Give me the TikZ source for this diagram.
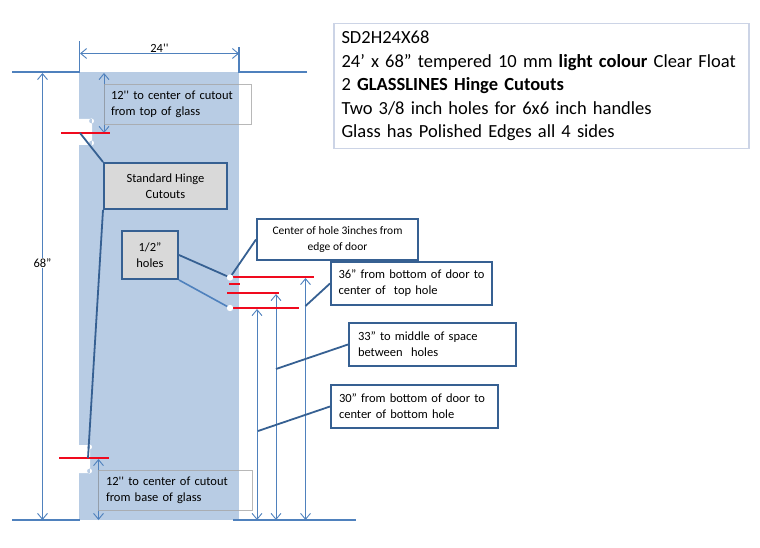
\documentclass[tikz,border=0pt]{standalone}
\usepackage{fontspec}
\setmainfont{Carlito}
\usetikzlibrary{arrows.meta}
\definecolor{glass}{RGB}{184,204,228}
\definecolor{dimblue}{RGB}{79,129,189}
\definecolor{boxblue}{RGB}{54,96,146}
\definecolor{boxgrey}{RGB}{217,217,217}
\definecolor{infoline}{RGB}{204,212,230}
\definecolor{markred}{RGB}{240,10,30}
\begin{document}
\begin{tikzpicture}[x=1pt,y=-1pt,>={Straight Barb[length=6pt,width=10pt]},
  dim/.style={<->,draw=dimblue,line width=0.9pt},
  edgeline/.style={draw=dimblue,line width=1.2pt},
  redline/.style={draw=markred,line width=1.3pt},
  lead/.style={draw=boxblue,line width=1.8pt},
  call box/.style={draw=boxblue,line width=2pt,fill=white,align=left,font=\fontsize{12.5}{16}\selectfont,inner sep=0pt},
  grey box/.style={call box,fill=boxgrey,align=center},
  note box/.style={draw=black!35,draw opacity=0.8,line width=0.6pt,align=left,font=\fontsize{12.5}{16}\selectfont,inner sep=0pt}]

  \useasboundingbox (0,0) rectangle (760,548);

  % glass and cutouts
  \fill[glass] (79,72) rectangle (239,520);
  \fill[white] (78,119) rectangle (92,145) (91.5,121) circle (2.5) (91.5,143) circle (2.5);
  \fill[white] (78,445) rectangle (90,473) (89.5,447) circle (2.5) (89.5,471) circle (2.5);

  % named ends
  \coordinate (tl) at (79.5,72);
  \coordinate (tr) at (239,72);
  \coordinate (topleft) at (12,72);
  \coordinate (topright) at (307,72);
  \coordinate (bl) at (79.5,520);
  \coordinate (botleft) at (12,520);
  \coordinate (botmid) at (233,520);
  \coordinate (botright) at (356,520);
  \coordinate (hole1) at (230,277.5);
  \coordinate (hole2) at (230,308);
  \coordinate (cut1) at (80,133);
  \coordinate (cut2) at (88,458);

  % boundary lines
  \draw[edgeline] (topleft) -- (tl) -- (79.5,41);
  \draw[edgeline] (topright) -- (tr) -- (239,47);
  \draw[edgeline] (botleft) -- (bl);
  \draw[edgeline] (botmid) -- (botright);

  % width and height
  \draw[dim] (80,53.5) -- node[above,inner sep=0.5pt,font=\fontsize{12.5}{14}\selectfont] (w) {24\textquotesingle\textquotesingle} (239,53.5);
  \draw[dim] (42.5,73) -- node[fill=white,inner sep=1pt,font=\fontsize{12.5}{14}\selectfont,pos=0.425] (h) {68\textquotedblright} (42.5,520);
  \draw[dim] (104,73) -- (104,133);
  \draw[dim] (98.5,459) -- (98.5,520);
  \foreach \x/\y in {257/309,276/294,305.5/278}
    \draw[dim] (\x,520) -- (\x,\y);

  % red marks
  \foreach \a/\b/\y in {59/109/458,230/314/277,229/240/284,227/279/293,233/299/308,61/110/133}
    \draw[redline] (\a,\y) -- (\b,\y);

  % labels
  \node[note box,minimum width=147pt,minimum height=40pt,text width=133pt] (top12) at (177.5,104) {12\textquotesingle\textquotesingle\ to center of cutout\\from top of glass};
  \node[note box,minimum width=154pt,minimum height=40pt,text width=138pt] (bot12) at (175,490) {12\textquotesingle\textquotesingle\ to center of cutout\\from base of glass};
  \node[grey box,minimum width=123pt,minimum height=46pt] (hinge) at (165.5,186) {Standard Hinge\\Cutouts};
  \node[grey box,minimum width=56pt,minimum height=48pt] (half) at (150,255) {1/2\textquotedblright\\holes};
  \node[call box,align=center,minimum width=161pt,minimum height=41pt,font=\fontsize{11.5}{16}\selectfont] (center) at (337.5,239.5) {Center of hole 3inches from\\edge of door};
  \node[call box,minimum width=161pt,minimum height=43pt,text width=146pt] (d36) at (411.5,283.5) {36\textquotedblright\ from bottom of door to\\center of\ \ top hole};
  \node[call box,minimum width=167pt,minimum height=43pt,text width=149pt] (d33) at (432.5,344.5) {33\textquotedblright\ to middle of space\\between\ \ holes};
  \node[call box,minimum width=167pt,minimum height=43pt,text width=151pt] (d30) at (414.5,406.5) {30\textquotedblright\ from bottom of door to\\center of bottom hole};
  \node[draw=infoline,line width=1.2pt,fill=white,align=left,inner sep=0pt,minimum width=415pt,minimum height=125pt,text width=400pt,font=\fontsize{18.5}{23.5}\selectfont] (info) at (541.5,86) {SD2H24X68\\24\textquoteright\ x 68\textquotedblright\ tempered 10 mm \textbf{light colour} Clear Float\\2 \textbf{GLASSLINES Hinge Cutouts}\\Two 3/8 inch holes for 6x6 inch handles\\Glass has Polished Edges all 4 sides};

  % leaders
  \draw[lead] (hinge.north west) -- (cut1);
  \draw[lead] (hinge.south west) -- (cut2);
  \draw[lead] (half.east) -- (hole1);
  \draw[edgeline,line width=1.6pt] (half.south east) -- (hole2);
  \draw[lead] (center.west) -- (hole1);
  \draw[lead] (d36.west) -- (305.5,306);
  \draw[lead] (d33.west) -- (276,369);
  \draw[lead] (d30.west) -- (258,431);

  % holes
  \fill[white] (hole1) circle (3.2) (hole2) circle (3.2);
\end{tikzpicture}
\end{document}
